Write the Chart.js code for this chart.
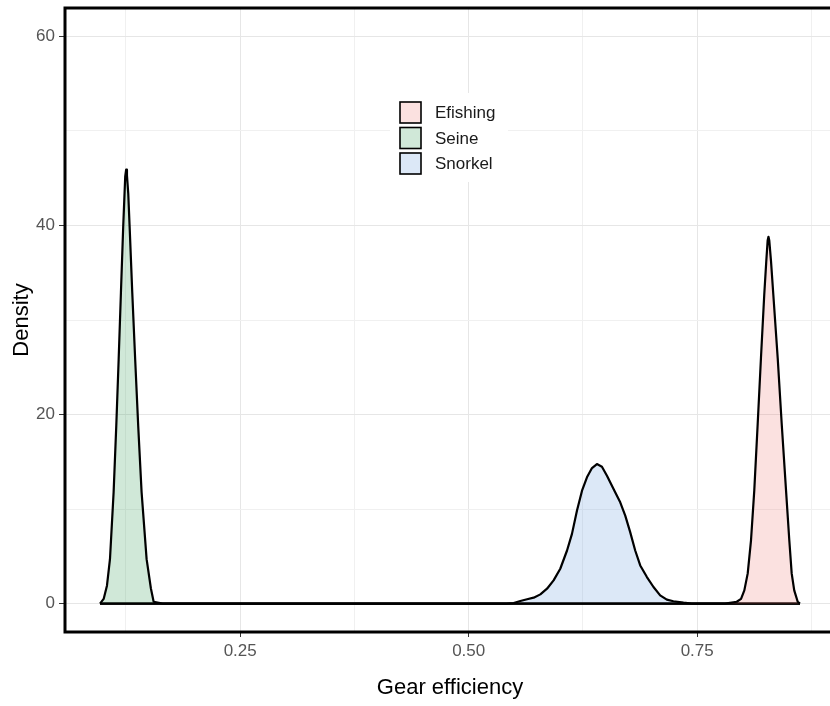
<!DOCTYPE html>
<html>
<head>
<meta charset="utf-8">
<script src="https://cdn.jsdelivr.net/npm/chart.js@4.4.1/dist/chart.umd.min.js"></script>
<style>
  html, body { margin: 0; padding: 0; background: #ffffff; overflow: hidden; width: 830px; height: 706px; }
  #wrap { width: 840px; height: 706px; position: relative; }
</style>
</head>
<body>
<div id="wrap"><canvas id="c"></canvas></div>
<script>
// ---- data ----
const categories = ['Efishing', 'Seine', 'Snorkel'];

const efishingX = [0.0966, 0.7805, 0.7933, 0.7980, 0.8016, 0.8053, 0.8089, 0.8125, 0.8162, 0.8198, 0.8234, 0.8256, 0.8271, 0.8280, 0.8289, 0.8308, 0.8333, 0.8381, 0.8425, 0.8472, 0.8508, 0.8534, 0.8562, 0.8600, 0.8625];
const efishingY = [0, 0, 0.2, 0.5, 1.4, 3.2, 6.7, 12.0, 19.0, 26.0, 32.7, 36.2, 38.4, 38.8, 38.4, 36.2, 32.7, 26.0, 19.0, 12.0, 6.7, 3.2, 1.4, 0.2, 0];

const seineX = [0.0966, 0.1006, 0.1042, 0.1075, 0.1115, 0.1144, 0.1170, 0.1195, 0.1220, 0.1242, 0.1252, 0.1261, 0.1275, 0.1290, 0.1319, 0.1351, 0.1384, 0.1421, 0.1476, 0.1523, 0.1553, 0.1651, 0.8625];
const seineY = [0, 0.5, 1.9, 4.7, 11.8, 18.8, 25.8, 32.9, 39.9, 45.2, 45.9, 45.3, 43.4, 39.9, 32.9, 25.8, 18.8, 11.8, 4.7, 1.6, 0.2, 0, 0];

const snorkelX = [0.0966, 0.5413, 0.5492, 0.5565, 0.5639, 0.5711, 0.5784, 0.5857, 0.5929, 0.6002, 0.6076, 0.6130, 0.6185, 0.6240, 0.6294, 0.6349, 0.6403, 0.6458, 0.6513, 0.6585, 0.6658, 0.6713, 0.6767, 0.6822, 0.6877, 0.6950, 0.7022, 0.7095, 0.7168, 0.7240, 0.7350, 0.7441, 0.8625];
const snorkelY = [0, 0, 0.07, 0.28, 0.46, 0.63, 0.98, 1.58, 2.46, 3.69, 5.62, 7.38, 9.84, 11.95, 13.36, 14.34, 14.76, 14.48, 13.53, 12.13, 10.72, 9.31, 7.56, 5.62, 4.04, 2.81, 1.76, 0.88, 0.42, 0.25, 0.1, 0, 0];

const xMajorTicks = [0.25, 0.50, 0.75];
const xMinorTicks = [0.125, 0.375, 0.625, 0.875];
const yMajorTicks = [0, 20, 40, 60];
const yMinorTicks = [10, 30, 50];

// ---- styles ----
const fillColors = ['rgba(238,120,115,0.22)', 'rgba(60,160,90,0.24)', 'rgba(110,160,220,0.24)'];
const FONT = '"Liberation Sans", Arial, sans-serif';

function pts(xs, ys) { return xs.map((x, i) => ({ x: x, y: ys[i] })); }
const seriesX = [efishingX, seineX, snorkelX];
const seriesY = [efishingY, seineY, snorkelY];

const datasets = categories.map((name, i) => ({
  label: name,
  data: pts(seriesX[i], seriesY[i]),
  borderColor: '#000000',
  borderWidth: 2.2,
  borderJoinStyle: 'round',
  backgroundColor: fillColors[i],
  fill: 'origin',
  pointRadius: 0,
  tension: 0
}));

const isMajor = (list, v) => list.some(t => Math.abs(t - v) < 1e-9);

const framePlugin = {
  id: 'frameAndLegend',
  afterDraw(chart) {
    const ctx = chart.ctx;
    const a = chart.chartArea;
    ctx.save();
    // legend
    const lx = 390, ly = 93, lw = 118, lh = 89;
    ctx.fillStyle = '#ffffff';
    ctx.fillRect(lx, ly, lw, lh);
    const keyX = 400, keyY0 = 102, step = 25.5, key = 21;
    categories.forEach((name, i) => {
      const ky = keyY0 + i * step;
      ctx.fillStyle = '#ffffff';
      ctx.fillRect(keyX, ky, key, key);
      ctx.fillStyle = fillColors[i];
      ctx.fillRect(keyX, ky, key, key);
      ctx.strokeStyle = '#000000';
      ctx.lineWidth = 1.6;
      ctx.strokeRect(keyX, ky, key, key);
      ctx.fillStyle = '#1a1a1a';
      ctx.font = '17px ' + FONT;
      ctx.textBaseline = 'middle';
      ctx.textAlign = 'left';
      ctx.fillText(name, 435, ky + key / 2 + 1);
    });
    // panel border
    ctx.strokeStyle = '#000000';
    ctx.lineWidth = 3;
    ctx.strokeRect(a.left, a.top, a.right - a.left, a.bottom - a.top);
    ctx.restore();
  }
};

new Chart(document.getElementById('c'), {
  type: 'line',
  data: { datasets: datasets },
  options: {
    responsive: true,
    maintainAspectRatio: false,
    animation: false,
    layout: { padding: { left: 0, top: 8, right: 5, bottom: 0 } },
    plugins: { legend: { display: false }, tooltip: { enabled: false } },
    scales: {
      x: {
        type: 'linear',
        min: 0.0583,
        max: 0.9008,
        afterBuildTicks(scale) {
          scale.ticks = xMinorTicks.concat(xMajorTicks).sort((p, q) => p - q).map(v => ({ value: v }));
        },
        afterFit(scale) {
          scale.height = 74;
          scale.paddingLeft = 0; scale.paddingRight = 0;
        },
        grid: {
          color: ctx => isMajor(xMajorTicks, ctx.tick && ctx.tick.value) ? '#E6E6E6' : '#F0F0F0',
          lineWidth: 1,
          drawTicks: true,
          tickLength: 5,
          tickColor: ctx => isMajor(xMajorTicks, ctx.tick && ctx.tick.value) ? '#333333' : 'rgba(0,0,0,0)'
        },
        border: { display: false },
        ticks: {
          autoSkip: false,
          maxRotation: 0,
          padding: 4,
          color: '#555555',
          font: { family: FONT, size: 17 },
          callback: v => isMajor(xMajorTicks, v) ? v.toFixed(2) : ''
        },
        title: {
          display: true,
          text: 'Gear efficiency',
          color: '#000000',
          font: { family: FONT, size: 22 },
          padding: { top: 0, bottom: 5 }
        }
      },
      y: {
        type: 'linear',
        min: -3,
        max: 63,
        afterBuildTicks(scale) {
          scale.ticks = yMinorTicks.concat(yMajorTicks).sort((p, q) => p - q).map(v => ({ value: v }));
        },
        afterFit(scale) {
          scale.width = 65;
          scale.paddingTop = 0; scale.paddingBottom = 0;
        },
        grid: {
          color: ctx => isMajor(yMajorTicks, ctx.tick && ctx.tick.value) ? '#E6E6E6' : '#F0F0F0',
          lineWidth: 1,
          drawTicks: true,
          tickLength: 6,
          tickColor: ctx => isMajor(yMajorTicks, ctx.tick && ctx.tick.value) ? '#333333' : 'rgba(0,0,0,0)'
        },
        border: { display: false },
        ticks: {
          autoSkip: false,
          padding: 4,
          color: '#555555',
          font: { family: FONT, size: 17 },
          callback: v => isMajor(yMajorTicks, v) ? String(v) : ''
        },
        title: {
          display: true,
          text: 'Density',
          color: '#000000',
          font: { family: FONT, size: 22 },
          padding: { top: 9, bottom: 0 }
        }
      }
    }
  },
  plugins: [framePlugin]
});
</script>
</body>
</html>
